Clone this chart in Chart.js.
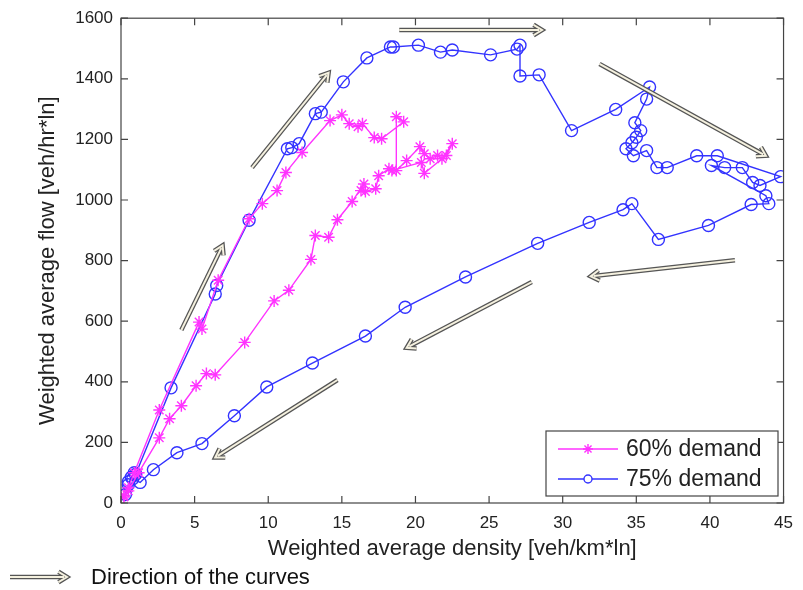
<!DOCTYPE html>
<html>
<head>
<meta charset="utf-8">
<script src="https://cdn.jsdelivr.net/npm/chart.js@4.4.1/dist/chart.umd.min.js"></script>
<style>
  html, body { margin: 0; padding: 0; background: #fff; }
  #wrap { width: 803px; height: 590px; }
</style>
</head>
<body>
<div id="wrap"><canvas id="fd" width="803" height="590"></canvas></div>
<script>
'use strict';

// --- data ---
const density60 = [0.2, 0.5, 0.9, 2.6, 5.3, 5.5, 6.6, 8.7, 9.6, 10.6, 11.2, 12.3, 14.2, 15.0, 15.5, 16.1, 16.4, 17.2, 17.7, 19.2, 18.7, 18.7,
  19.4, 20.3, 20.6, 21.0, 21.5, 22.1, 22.5, 21.8, 20.6, 20.4, 18.4, 18.2, 17.5, 17.3, 16.6, 16.3, 16.5, 15.7, 14.7, 14.1, 13.2, 12.9,
  11.4, 10.4, 8.4, 6.4, 5.8, 5.1, 4.1, 3.3, 2.6, 1.2, 0.5, 0.2];
const flow60 = [20, 50, 100, 307, 597, 574, 735, 938, 988, 1031, 1091, 1157, 1262, 1281, 1252, 1242, 1252, 1206, 1202, 1258, 1275, 1097,
  1130, 1176, 1153, 1136, 1147, 1147, 1186, 1136, 1088, 1124, 1097, 1103, 1080, 1037, 1028, 1031, 1053, 995, 935, 877, 883, 804,
  702, 667, 530, 423, 427, 387, 321, 278, 215, 100, 40, 25];

const density75 = [0.3, 0.5, 0.7, 0.9, 1.0, 3.4, 6.4, 6.5, 8.7, 11.3, 11.6, 12.1, 13.2, 13.6, 15.1, 16.7, 18.3, 18.5, 20.2, 21.7, 22.5,
  25.1, 26.9, 27.1, 27.1, 28.4, 30.6, 33.6, 35.9, 35.7, 34.9, 35.3, 35.0, 34.7, 34.3, 34.8, 35.7, 36.4, 37.1, 39.1, 40.5, 44.8, 43.4,
  42.9, 42.2, 41.0, 40.1, 43.8, 44.0, 42.8, 39.9, 36.5, 34.7, 34.1, 31.8, 28.3, 23.4, 19.3, 16.6, 13.0, 9.9, 7.7, 5.5, 3.8, 2.2,
  1.3, 0.8, 0.5];
const flow75 = [28, 60, 85, 100, 95, 380, 690, 718, 933, 1169, 1173, 1186, 1285, 1290, 1390, 1469, 1505, 1505, 1511, 1488, 1495,
  1479, 1498, 1511, 1409, 1413, 1229, 1299, 1373, 1333, 1255, 1229, 1207, 1189, 1169, 1146, 1163, 1107, 1107, 1146, 1146, 1077, 1048,
  1058, 1107, 1107, 1114, 1014, 988, 985, 916, 870, 988, 968, 926, 857, 746, 646, 551, 462, 383, 288, 196, 166, 110,
  68, 80, 70];

const xTicks = [0, 5, 10, 15, 20, 25, 30, 35, 40, 45];
const yTicks = [0, 200, 400, 600, 800, 1000, 1200, 1400, 1600];

const seriesNames = ['60% demand', '75% demand'];

// direction arrows, [x0, y0, x1, y1] in data units (tail -> head)
const arrows = [
  [4.1, 571, 6.9, 850],
  [8.9, 1107, 14.1, 1420],
  [18.9, 1561, 28.6, 1561],
  [32.5, 1449, 43.8, 1146],
  [41.7, 801, 31.9, 748],
  [27.9, 729, 19.4, 512],
  [14.7, 406, 6.4, 150]
];

const PINK = '#ff33ff';
const BLUE = '#3333ff';
const FONT = "'Liberation Sans', Arial, sans-serif";

const toPts = (xs, ys) => xs.map((x, i) => ({ x, y: ys[i] }));

function drawArrow(ctx, x0, y0, x1, y1) {
  const a = Math.atan2(y1 - y0, x1 - x0);
  const hl = 10;
  const bx = x1 - Math.cos(a) * 3, by = y1 - Math.sin(a) * 3;
  const pass = (w, c) => {
    ctx.strokeStyle = c;
    ctx.lineWidth = w;
    ctx.beginPath();
    ctx.moveTo(x0, y0);
    ctx.lineTo(bx, by);
    ctx.stroke();
    ctx.beginPath();
    ctx.moveTo(x1 - Math.cos(a - 0.55) * hl, y1 - Math.sin(a - 0.55) * hl);
    ctx.lineTo(x1, y1);
    ctx.lineTo(x1 - Math.cos(a + 0.55) * hl, y1 - Math.sin(a + 0.55) * hl);
    ctx.stroke();
  };
  ctx.save();
  ctx.lineCap = 'butt';
  ctx.lineJoin = 'miter';
  pass(4.5, '#555');
  pass(2, '#f5f1df');
  ctx.restore();
}

// MATLAB style box with inward ticks, arrows, legend and footnote
const decor = {
  id: 'decor',
  afterDatasetsDraw(chart) {
    const { ctx, chartArea: a, scales: { x, y } } = chart;
    ctx.save();
    ctx.strokeStyle = '#444';
    ctx.lineWidth = 1.2;
    ctx.strokeRect(a.left, a.top, a.right - a.left, a.bottom - a.top);
    ctx.beginPath();
    xTicks.forEach(v => {
      const px = x.getPixelForValue(v);
      ctx.moveTo(px, a.bottom); ctx.lineTo(px, a.bottom - 7);
      ctx.moveTo(px, a.top); ctx.lineTo(px, a.top + 7);
    });
    yTicks.forEach(v => {
      const py = y.getPixelForValue(v);
      ctx.moveTo(a.left, py); ctx.lineTo(a.left + 7, py);
      ctx.moveTo(a.right, py); ctx.lineTo(a.right - 7, py);
    });
    ctx.stroke();

    arrows.forEach(r => drawArrow(ctx,
      x.getPixelForValue(r[0]), y.getPixelForValue(r[1]),
      x.getPixelForValue(r[2]), y.getPixelForValue(r[3])));

    // legend
    const lx = 546, ly = 431, lw = 232, lh = 65;
    ctx.fillStyle = '#fff';
    ctx.fillRect(lx, ly, lw, lh);
    ctx.strokeStyle = '#444';
    ctx.lineWidth = 1.2;
    ctx.strokeRect(lx, ly, lw, lh);
    chart.data.datasets.forEach((ds, i) => {
      const cy = ly + 18 + i * 30;
      ctx.strokeStyle = ds.borderColor;
      ctx.lineWidth = 1.5;
      ctx.beginPath();
      ctx.moveTo(lx + 12, cy); ctx.lineTo(lx + 72, cy);
      ctx.stroke();
      ctx.fillStyle = '#fff';
      ctx.strokeStyle = ds.borderColor;
      ctx.lineWidth = ds.pointBorderWidth;
      Chart.helpers.drawPoint(ctx, {
        pointStyle: ds.pointStyle, radius: ds.pointStyle === 'star' ? 5 : 4, rotation: 0,
        borderWidth: ds.pointBorderWidth
      }, lx + 42, cy);
      ctx.fillStyle = '#222';
      ctx.font = '23px ' + FONT;
      ctx.textBaseline = 'middle';
      ctx.textAlign = 'left';
      ctx.fillText(seriesNames[i], lx + 80, cy + 1);
    });

    // footnote
    drawArrow(ctx, 10, 577, 67, 577);
    ctx.fillStyle = '#111';
    ctx.font = '22px ' + FONT;
    ctx.textBaseline = 'middle';
    ctx.fillText('Direction of the curves', 91, 578);
    ctx.restore();
  }
};

new Chart(document.getElementById('fd'), {
  type: 'scatter',
  data: {
    datasets: [
      {
        label: seriesNames[0],
        data: toPts(density60, flow60),
        showLine: true,
        borderColor: PINK,
        backgroundColor: 'transparent',
        borderWidth: 1.4,
        pointStyle: 'star',
        pointRadius: 6,
        pointBorderWidth: 1.4,
        pointBorderColor: PINK,
        tension: 0
      },
      {
        label: seriesNames[1],
        data: toPts(density75, flow75),
        showLine: true,
        borderColor: BLUE,
        backgroundColor: 'transparent',
        borderWidth: 1.4,
        pointStyle: 'circle',
        pointRadius: 6,
        pointBorderWidth: 1.4,
        pointBorderColor: BLUE,
        pointBackgroundColor: 'transparent',
        tension: 0
      }
    ]
  },
  options: {
    responsive: false,
    animation: false,
    layout: { padding: { left: 0, right: 17, top: 17, bottom: 0 } },
    plugins: {
      legend: { display: false },
      tooltip: { enabled: false }
    },
    scales: {
      x: {
        type: 'linear',
        min: 0,
        max: 45,
        afterFit: s => { s.height = 87; },
        afterBuildTicks: s => { s.ticks = xTicks.map(v => ({ value: v })); },
        grid: { display: false, drawTicks: false },
        border: { display: false },
        ticks: { color: '#222', padding: 10, maxRotation: 0, callback: v => String(v), font: { family: FONT, size: 17 } },
        title: {
          display: true,
          text: 'Weighted average density [veh/km*ln]',
          color: '#222',
          padding: { top: 0, bottom: 28 },
          font: { family: FONT, size: 22 }
        }
      },
      y: {
        type: 'linear',
        min: 0,
        max: 1600,
        afterFit: s => { s.width = 121; },
        afterBuildTicks: s => { s.ticks = yTicks.map(v => ({ value: v })); },
        grid: { display: false, drawTicks: false },
        border: { display: false },
        ticks: { color: '#222', padding: 8, callback: v => String(v), font: { family: FONT, size: 17 } },
        title: {
          display: true,
          text: 'Weighted average flow [veh/hr*ln]',
          color: '#222',
          padding: { top: 35, bottom: 0 },
          font: { family: FONT, size: 22 }
        }
      }
    }
  },
  plugins: [decor]
});
</script>
</body>
</html>
